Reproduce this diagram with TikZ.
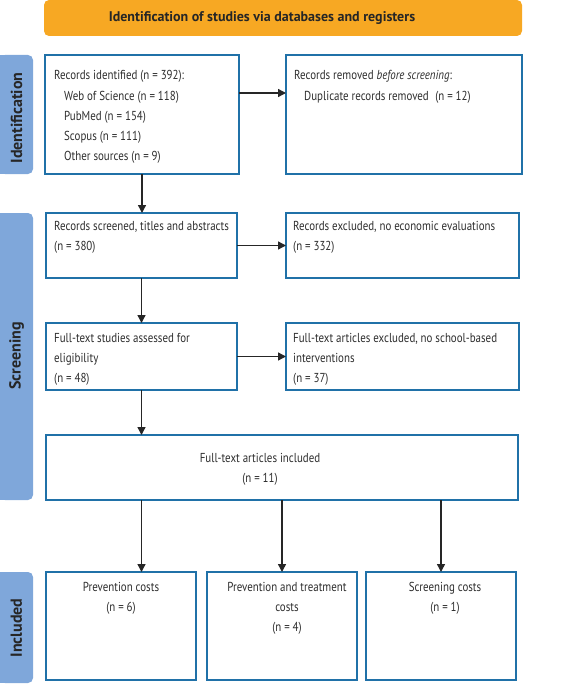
\documentclass[tikz,border=0pt]{standalone}
\usepackage{fontspec}
\setmainfont[FakeStretch=0.84]{PT Sans}
\newfontfamily\hdfont{PT Sans}
\usetikzlibrary{arrows.meta}
\definecolor{bord}{HTML}{2071A8}
\definecolor{orng}{HTML}{F7A823}
\definecolor{side}{HTML}{7FA7DA}
\definecolor{txt}{HTML}{2E2E2E}
\begin{document}
\begin{tikzpicture}[x=1pt,y=-1pt,
  bx/.style={draw=bord, line width=2pt, inner sep=0pt, outer sep=0pt, fill=white},
  tl/.style={anchor=base west, inner sep=0pt, text=txt, font=\fontsize{13}{15}\selectfont},
  tc/.style={anchor=base, inner sep=0pt, text=txt, font=\fontsize{13}{15}\selectfont},
  sb/.style={fill=side, rounded corners=5pt, inner sep=0pt, minimum width=33pt},
  sbt/.style={rotate=90, text=black!85, font=\hdfont\bfseries\fontsize{16}{18}\selectfont, inner sep=0pt},
  arr/.style={draw=black!85, line width=1.4pt, -{Triangle[length=8pt,width=8pt]}}]
\useasboundingbox (0,0) rectangle (573,685);

% header
\node[fill=orng, rounded corners=5pt, minimum width=478pt, minimum height=36pt, inner sep=0pt] (hd) at (283,18) {};
\node[text=black!85, font=\hdfont\bfseries\fontsize{14}{16}\selectfont, inner sep=0pt] (hdt) at (262,18) {Identification of studies via databases and registers};

% sidebars
\fill[side] (0,55) rectangle (15,174);
\node[sb, minimum height=119pt] (s1) at (16.5,114.5) {};
\node[sbt] (s1t) at (16.5,118) {Identification};
\fill[side] (0,213) rectangle (15,500);
\node[sb, minimum height=287pt] (s2) at (16.5,356.5) {};
\node[sbt] (s2t) at (16.5,356) {Screening};
\fill[side] (0,572) rectangle (15,683);
\node[sb, minimum height=111pt] (s3) at (16.5,627.5) {};
\node[sbt] (s3t) at (16.5,628) {Included};

% boxes
\node[bx, minimum width=194pt, minimum height=119pt] (b1) at (142,114.5) {};
\node[bx, minimum width=236pt, minimum height=119pt] (b2) at (404,114.5) {};
\node[bx, minimum width=191pt, minimum height=65pt] (b3) at (141.5,245.5) {};
\node[bx, minimum width=233pt, minimum height=65pt] (b4) at (402.5,245.5) {};
\node[bx, minimum width=191pt, minimum height=67pt] (b5) at (141.5,356.5) {};
\node[bx, minimum width=233pt, minimum height=67pt] (b6) at (402.5,356.5) {};
\node[bx, minimum width=472pt, minimum height=65pt] (b7) at (282,467.5) {};
\node[bx, minimum width=150pt, minimum height=108pt] (b8) at (121,626) {};
\node[bx, minimum width=150pt, minimum height=108pt] (b9) at (282,626) {};
\node[bx, minimum width=150pt, minimum height=108pt] (b10) at (441,626) {};

% texts
\node[tl] (t1a) at (54,80) {Records identified (n = 392):};
\node[tl] (t1b) at (64,100) {Web of Science (n = 118)};
\node[tl] (t1c) at (64,120) {PubMed (n = 154)};
\node[tl] (t1d) at (64,140) {Scopus (n = 111)};
\node[tl] (t1e) at (64,160) {Other sources (n = 9)};

\node[tl] (t2a) at (294,80) {Records removed \textit{before screening}:};
\node[tl] (t2b) at (304,100) {Duplicate records removed\enspace(n = 12)};

\node[tl] (t3a) at (54,230) {Records screened, titles and abstracts};
\node[tl] (t3b) at (54,250) {(n = 380)};
\node[tl] (t4a) at (293,230) {Records excluded, no economic evaluations};
\node[tl] (t4b) at (293,250) {(n = 332)};

\node[tl] (t5a) at (54,342) {Full-text studies assessed for};
\node[tl] (t5b) at (54,362) {eligibility};
\node[tl] (t5c) at (54,382) {(n = 48)};
\node[tl] (t6a) at (293,342) {Full-text articles excluded, no school-based};
\node[tl] (t6b) at (293,362) {interventions};
\node[tl] (t6c) at (293,382) {(n = 37)};

\node[tc] (t7a) at (260,462) {Full-text articles included};
\node[tc] (t7b) at (260,482) {(n = 11)};

\node[tc] (t8a) at (121,591) {Prevention costs};
\node[tc] (t8b) at (121,611) {(n = 6)};
\node[tc] (t9a) at (287,591) {Prevention and treatment};
\node[tc] (t9b) at (287,611) {costs};
\node[tc] (t9c) at (287,631) {(n = 4)};
\node[tc] (t10a) at (445,591) {Screening costs};
\node[tc] (t10b) at (445,611) {(n = 1)};

% arrows
\draw[arr] ([yshift=21.5pt]b1.east) -- ([yshift=21.5pt]b2.west);
\draw[arr] (b1.south) -- (b1.south |- b3.north);
\draw[arr] (b3.east) -- (b4.west);
\draw[arr] (b3.south) -- (b3.south |- b5.north);
\draw[arr] (b5.east) -- (b6.west);
\draw[arr] (b5.south) -- (b5.south |- b7.north);
\draw[arr] (b7.south -| b5.south) -- (b5.south |- b8.north);
\draw[arr] (b7.south) -- (b9.north);
\draw[arr] (b10.north |- b7.south) -- (b10.north);
\end{tikzpicture}
\end{document}
